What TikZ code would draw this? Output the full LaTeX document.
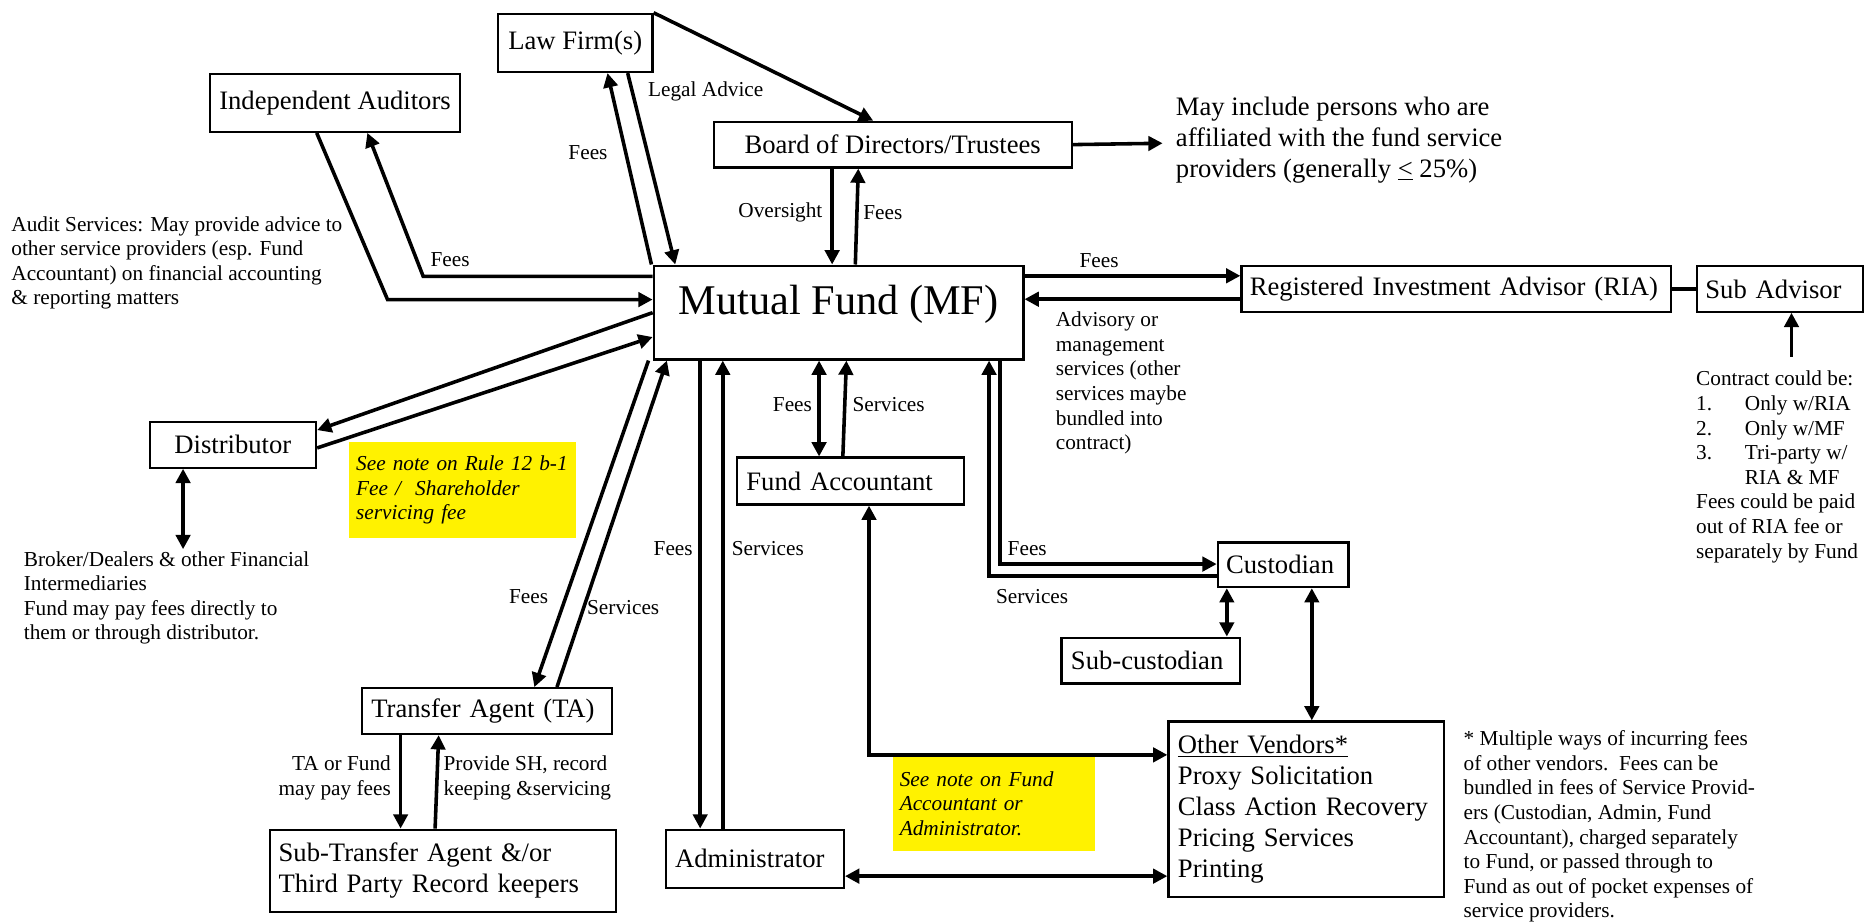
\documentclass[tikz,border=0pt]{standalone}
\usepackage{fontspec}
\setmainfont{Liberation Serif}
\usetikzlibrary{arrows.meta,calc}
\newcommand{\fntbig}{\fontsize{22.4}{26}\selectfont}
\newcommand{\fntsmall}{\fontsize{17.9}{20.7}\selectfont}
\newcommand{\fntmf}{\fontsize{35.6}{40}\selectfont}
\begin{document}
\begin{tikzpicture}[x=1pt,y=-1pt,
 box/.style={draw, line width=1.8pt, anchor=north west, inner sep=0pt, font=\fntbig, fill=white},
 sz/.style 2 args={minimum width=#1pt, minimum height=#2pt},
 arr/.style={line width=3pt, -{Triangle[length=12pt,width=12pt]}},
 darr/.style={line width=3pt, {Triangle[length=12pt,width=12pt]}-{Triangle[length=12pt,width=12pt]}},
 ln/.style={line width=3pt},
 lbl/.style={inner sep=0pt, font=\fntsmall},
 txt/.style={inner sep=0pt, font=\fntsmall, align=left, anchor=north west},
 note/.style={fill=yellow, anchor=north west, inner sep=0pt, font=\fntsmall\itshape, align=left}
]
\fill[white] (0,0) rectangle (1568,776);
\useasboundingbox (0,0) rectangle (1568,776);

% boxes
\node[box, sz={130}{49}] (lf) at (418,10.7) {Law Firm(s)};
\node[box, sz={211}{49}] (ia) at (175.4,61) {Independent Auditors};
\node[box, sz={301}{38.5}] (bd) at (599.5,101.5) {Board of Directors/Trustees};
\node[box, sz={311}{79}, font=\fntmf, text height=24pt, text depth=21pt] (mf) at (549,222.5) {Mutual Fund (MF)};
\node[box, sz={361.6}{38.3}, inner xsep=7pt, text width=347.6pt, align=left] (ria) at (1043.4,223) {Registered Investment Advisor (RIA)};
\node[box, sz={140}{38.3}, inner xsep=7pt, text width=126pt, align=left] (sa) at (1426.7,223) {Sub Advisor};
\node[box, sz={140}{38.7}] (dist) at (125,353.8) {Distributor};
\node[box, sz={191}{39.5}, inner xsep=8pt, text width=175pt, align=left] (fa) at (619,384) {Fund Accountant};
\node[box, sz={110}{37.5}, inner xsep=7pt, text width=96pt, align=left] (cust) at (1023.5,455.5) {Custodian};
\node[box, sz={150}{38.5}, inner xsep=8pt, text width=134pt, align=left] (sc) at (892,535.5) {Sub-custodian};
\node[box, sz={210.5}{38.6}, inner xsep=8pt, text width=194.5pt, align=left] (ta) at (303.5,578) {Transfer Agent (TA)};
\node[box, sz={291}{69}, inner xsep=7.5pt, text width=276pt, align=left] (sta) at (226,697) {Sub-Transfer Agent \&/or\\Third Party Record keepers};
\node[box, sz={150}{49}, inner xsep=8pt, text width=134pt, align=left] (adm) at (559,697) {Administrator};
\node[box, sz={231.6}{148}, inner xsep=8pt, text width=215.6pt, align=left] (ov) at (982,606) {\underline{Other Vendors*}\\Proxy Solicitation\\Class Action Recovery\\Pricing Services\\Printing};

% yellow notes
\node[note, minimum width=191pt, minimum height=80pt, inner xsep=6.4pt, text width=178.2pt] (y1) at (293,372) {See note on Rule 12 b-1\\Fee /\ \ Shareholder\\servicing fee};
\node[note, minimum width=170pt, minimum height=80pt, inner xsep=5.7pt, text width=158.6pt] (y2) at (751,635.6) {See note on Fund\\Accountant or\\Administrator.};

% free texts
\node[txt] (audit) at (9.4,181.7) {Audit Services: May provide advice to\\other service providers (esp. Fund\\Accountant) on financial accounting\\\& reporting matters};
\node[txt] (broker) at (19.9,463.5) {Broker/Dealers \& other Financial\\Intermediaries\\Fund may pay fees directly to\\them or through distributor.};
\node[txt] (adv) at (888,262.2) {Advisory or\\management\\services (other\\services maybe\\bundled into\\contract)};
\node[txt] (contract) at (1426.6,312) {Contract could be:\\\makebox[41pt][l]{1.}Only w/RIA\\\makebox[41pt][l]{2.}Only w/MF\\\makebox[41pt][l]{3.}Tri-party w/\\\hspace*{41pt}RIA \& MF\\Fees could be paid\\out of RIA fee or\\separately by Fund};
\node[txt] (foot) at (1231,614.5) {* Multiple ways of incurring fees\\of other vendors.\ \ Fees can be\\bundled in fees of Service Provid-\\ers (Custodian, Admin, Fund\\Accountant), charged separately\\to Fund, or passed through to\\Fund as out of pocket expenses of\\service providers.};
\node[txt, font=\fntbig] (bnote) at (989,81.6) {May include persons who are\\affiliated with the fund service\\providers (generally \underline{<} 25\%)};
\node[txt, anchor=north east, align=right] (tafees) at (329,635.5) {TA or Fund\\may pay fees};
\node[txt] (taserv) at (373,635.5) {Provide SH, record\\keeping \&servicing};

% labels
\node[lbl, anchor=west] (l1) at (545,77) {Legal Advice};
\node[lbl, anchor=west] (l2) at (478,128) {Fees};
\node[lbl, anchor=west] (l3) at (362,218) {Fees};
\node[lbl, anchor=east] (l4) at (692,179) {Oversight};
\node[lbl, anchor=west] (l5) at (726,179) {Fees};
\node[lbl, anchor=west] (l6) at (908,219) {Fees};
\node[lbl, anchor=west] (l7) at (650,340) {Fees};
\node[lbl, anchor=west] (l8) at (717,340) {Services};
\node[lbl, anchor=west] (l9) at (549.7,461.7) {Fees};
\node[lbl, anchor=west] (l10) at (615.4,461.7) {Services};
\node[lbl, anchor=west] (l11) at (847.5,461.7) {Fees};
\node[lbl, anchor=west] (l12) at (837.7,501.8) {Services};
\node[lbl, anchor=west] (l13) at (428,501.8) {Fees};
\node[lbl, anchor=west] (l14) at (493.7,511) {Services};

% connectors
\draw[arr] (lf.north east) -- ($(bd.north west)+(135,0)$);
\draw[arr] ($(lf.south west)+(110,0)$) -- ($(mf.north west)+(19,0)$);
\draw[arr] ($(mf.north west)+(-1,0)$) -- ($(lf.south west)+(93,0)$);

\draw[arr] ($(ia.south west)+(91,0)$) -- ($(mf.north west)+(-223,29.5)$) -- ($(mf.north west)+(0,29.5)$);
\draw[arr] ($(mf.north west)+(0,10)$) -- ($(mf.north west)+(-193,10)$) -- ($(ia.south west)+(133.6,0)$);

\draw[arr] ($(mf.north west)+(0,40.5)$) -- ($(dist.north east)+(0,8)$);
\draw[arr] ($(dist.north east)+(0,23)$) -- ($(mf.north west)+(0,61)$);
\coordinate (bk) at (154,462);
\draw[darr] ($(dist.south west)+(29,0)$) -- (bk);

\draw[arr] ($(mf.south west)+(-3.5,0)$) -- ($(ta.north west)+(146,0)$);
\draw[arr] ($(ta.north west)+(165,0)$) -- ($(mf.south west)+(12,0)$);
\draw[arr] ($(ta.south west)+(33.5,0)$) -- ($(sta.north west)+(111,0)$);
\draw[arr] ($(sta.north west)+(140,0)$) -- ($(ta.south west)+(65.5,0)$);

\draw[arr] ($(mf.south west)+(40,0)$) -- ($(adm.north west)+(30,0)$);
\draw[arr] ($(adm.north west)+(49,0)$) -- ($(mf.south west)+(59,0)$);

\draw[darr] ($(mf.south west)+(140,0)$) -- ($(fa.north west)+(70,0)$);
\draw[arr] ($(fa.north west)+(90,0)$) -- ($(mf.south west)+(163,0)$);
\draw[darr] ($(fa.south west)+(112,0)$) |- ($(ov.north west)+(0,29)$);
\draw[darr] ($(adm.north east)+(0,40)$) -- ($(ov.north west)+(0,131)$);

\draw[arr] ($(mf.south west)+(292,0)$) |- ($(cust.north west)+(0,19)$);
\draw[arr] ($(cust.north west)+(0,29)$) -| ($(mf.south west)+(283,0)$);
\draw[darr] ($(cust.south west)+(8.5,0)$) -- ($(sc.north west)+(140,0)$);
\draw[darr] ($(cust.south west)+(80,0)$) -- ($(ov.north west)+(121.5,0)$);

\draw[arr] ($(mf.north east)+(0,9.5)$) -- ($(ria.north west)+(0,9)$);
\draw[arr] ($(ria.north west)+(0,28.7)$) -- ($(mf.north east)+(0,29.2)$);
\draw[ln] (ria.east) -- (sa.west);
\coordinate (ct) at (1507,300);
\draw[arr] (ct) -- ($(sa.south west)+(80.3,0)$);

\draw[arr] ($(bd.south west)+(100.5,0)$) -- ($(mf.north west)+(151,0)$);
\draw[arr] ($(mf.north west)+(170.5,0)$) -- ($(bd.south west)+(122.5,0)$);
\coordinate (bn) at (978,120.5);
\draw[arr] (bd.east) -- (bn);
\end{tikzpicture}
\end{document}
